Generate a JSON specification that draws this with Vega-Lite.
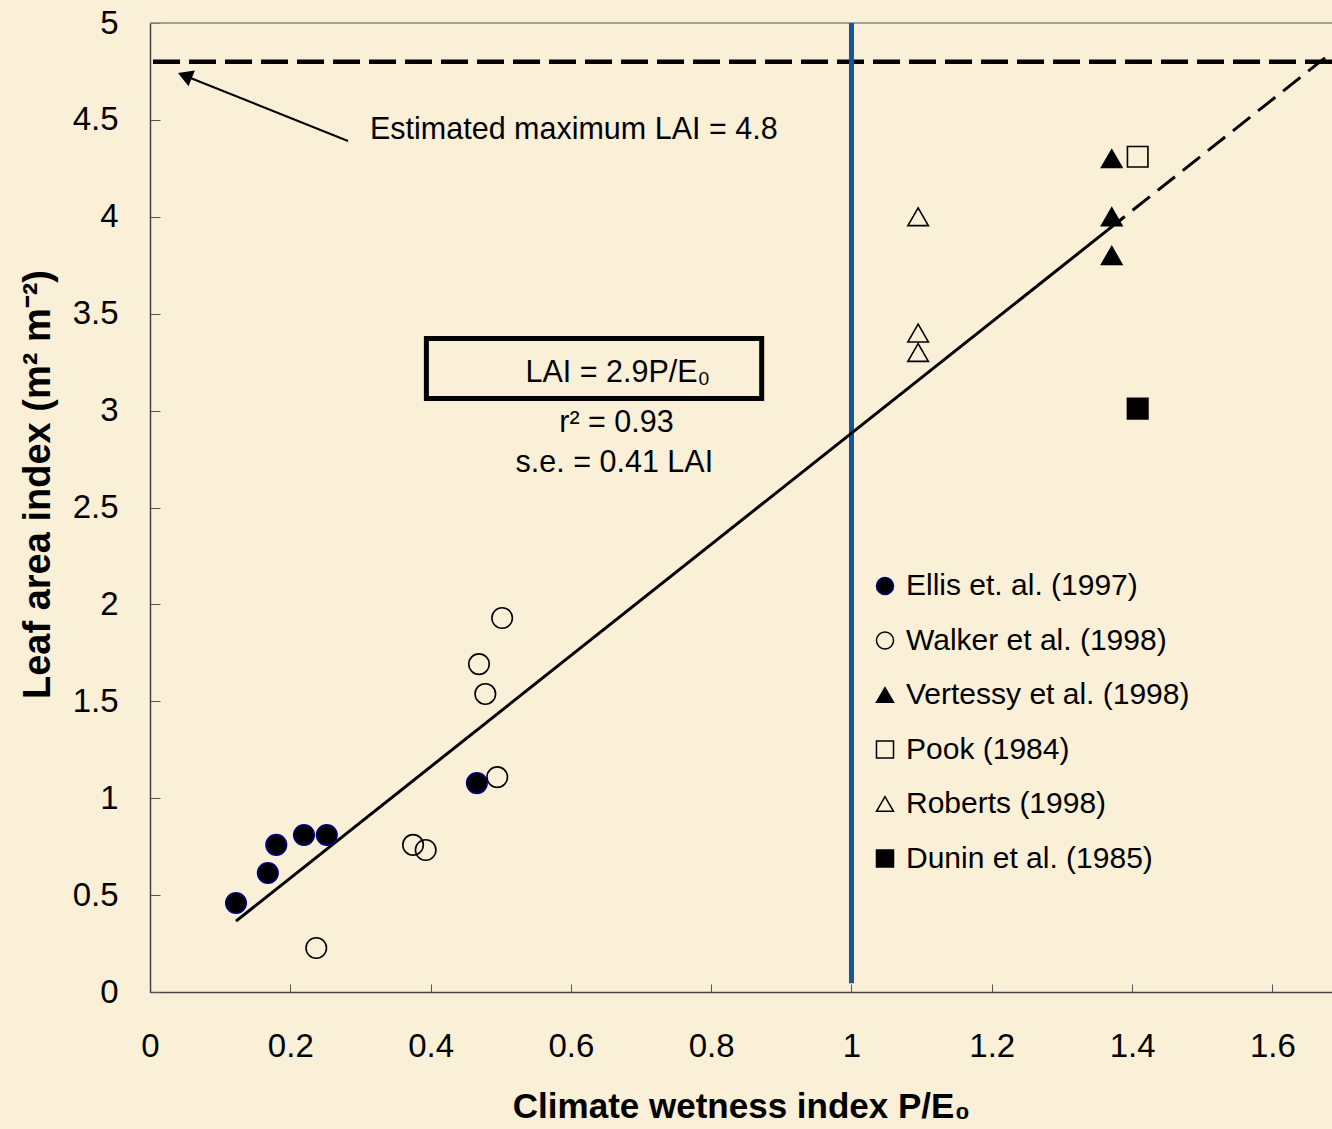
{
  "$schema": "https://vega.github.io/schema/vega-lite/v6.json",
  "width": 1182,
  "height": 969,
  "autosize": {"type": "none"},
  "padding": {"left": 150, "top": 23, "right": 0, "bottom": 137},
  "background": "#FAF0D7",
  "config": {
    "font": "Liberation Sans",
    "view": {"stroke": null},
    "axis": {"grid": false, "labelFlush": false, "domainColor": "#444444", "domainWidth": 1.5, "tickColor": "#555555", "tickWidth": 1, "labelColor": "black", "titleColor": "black", "labelFont": "Liberation Sans", "titleFont": "Liberation Sans"}
  },
  "datasets": {
    "obs": [
      {"study": "Ellis et. al. (1997)", "pe": 0.1226, "lai": 0.459},
      {"study": "Ellis et. al. (1997)", "pe": 0.168, "lai": 0.614},
      {"study": "Ellis et. al. (1997)", "pe": 0.180, "lai": 0.759},
      {"study": "Ellis et. al. (1997)", "pe": 0.2195, "lai": 0.81},
      {"study": "Ellis et. al. (1997)", "pe": 0.252, "lai": 0.81},
      {"study": "Ellis et. al. (1997)", "pe": 0.466, "lai": 1.078},
      {"study": "Walker et al. (1998)", "pe": 0.237, "lai": 0.227},
      {"study": "Walker et al. (1998)", "pe": 0.375, "lai": 0.759},
      {"study": "Walker et al. (1998)", "pe": 0.393, "lai": 0.733},
      {"study": "Walker et al. (1998)", "pe": 0.469, "lai": 1.692},
      {"study": "Walker et al. (1998)", "pe": 0.478, "lai": 1.538},
      {"study": "Walker et al. (1998)", "pe": 0.495, "lai": 1.109},
      {"study": "Walker et al. (1998)", "pe": 0.502, "lai": 1.93},
      {"study": "Vertessy et al. (1998)", "pe": 1.371, "lai": 4.3},
      {"study": "Vertessy et al. (1998)", "pe": 1.371, "lai": 4.0},
      {"study": "Vertessy et al. (1998)", "pe": 1.371, "lai": 3.8},
      {"study": "Pook (1984)", "pe": 1.408, "lai": 4.31},
      {"study": "Roberts (1998)", "pe": 1.095, "lai": 4.0},
      {"study": "Roberts (1998)", "pe": 1.095, "lai": 3.4},
      {"study": "Roberts (1998)", "pe": 1.095, "lai": 3.3},
      {"study": "Dunin et al. (1985)", "pe": 1.408, "lai": 3.01}
    ]
  },
  "layer": [
    {
      "data": {"values": [{"top": 5}]},
      "mark": {"type": "rule", "color": "#888888", "strokeWidth": 1.5},
      "encoding": {"y": {"field": "top", "type": "quantitative"}}
    },
    {
      "data": {"values": [{"max": 4.8}]},
      "mark": {"type": "rule", "color": "black", "strokeWidth": 4.5, "strokeDash": [27, 9]},
      "encoding": {"y": {"field": "max", "type": "quantitative"}}
    },
    {
      "data": {"values": [{"pe": 1, "top": 5, "bottom": 0.045}]},
      "mark": {"type": "rule", "color": "#14559E", "strokeWidth": 5},
      "encoding": {
        "x": {"field": "pe", "type": "quantitative"},
        "y": {"field": "top", "type": "quantitative"},
        "y2": {"field": "bottom"}
      }
    },
    {
      "data": {"values": [{"pe": 0.1226, "lai": 0.366}, {"pe": 1.365, "lai": 3.931}]},
      "mark": {"type": "line", "color": "black", "strokeWidth": 3},
      "encoding": {"x": {"field": "pe", "type": "quantitative"}, "y": {"field": "lai", "type": "quantitative"}}
    },
    {
      "data": {"values": [{"pe": 1.365, "lai": 3.931}, {"pe": 1.675, "lai": 4.82}]},
      "mark": {"type": "line", "color": "black", "strokeWidth": 3, "strokeDash": [22, 10]},
      "encoding": {"x": {"field": "pe", "type": "quantitative"}, "y": {"field": "lai", "type": "quantitative"}}
    },
    {
      "data": {"values": [{"pe": 0.2823, "lai": 4.391, "pe2": 0.0497, "lai2": 4.728}]},
      "mark": {"type": "rule", "color": "black", "strokeWidth": 2},
      "encoding": {
        "x": {"field": "pe", "type": "quantitative"},
        "y": {"field": "lai", "type": "quantitative"},
        "x2": {"field": "pe2"},
        "y2": {"field": "lai2"}
      }
    },
    {
      "data": {"values": [{"pe": 0.0497, "lai": 4.728}]},
      "mark": {"type": "point", "shape": "triangle-up", "filled": true, "color": "black", "size": 290, "angle": 292, "opacity": 1},
      "encoding": {"x": {"field": "pe", "type": "quantitative"}, "y": {"field": "lai", "type": "quantitative"}}
    },
    {
      "data": {"values": [{"x1": 0.394, "x2": 0.872, "y1": 3.372, "y2": 3.062}]},
      "mark": {"type": "rect", "fill": null, "stroke": "black", "strokeWidth": 5},
      "encoding": {
        "x": {"field": "x1", "type": "quantitative"},
        "x2": {"field": "x2"},
        "y": {"field": "y1", "type": "quantitative"},
        "y2": {"field": "y2"}
      }
    },
    {
      "data": {"values": [
        {"pe": 0.3136, "lai": 4.45, "label": "Estimated maximum LAI = 4.8", "al": "left"},
        {"pe": 0.667, "lai": 3.194, "label": "LAI = 2.9P/E₀", "al": "center"},
        {"pe": 0.665, "lai": 2.936, "label": "r² = 0.93", "al": "center"},
        {"pe": 0.662, "lai": 2.73, "label": "s.e. = 0.41 LAI", "al": "center"}
      ]},
      "mark": {"type": "text", "fontSize": 30.5, "color": "black", "baseline": "middle", "align": {"expr": "datum.al"}},
      "encoding": {
        "x": {"field": "pe", "type": "quantitative"},
        "y": {"field": "lai", "type": "quantitative"},
        "text": {"field": "label"}
      }
    },
    {
      "data": {"name": "obs"},
      "mark": {"type": "point", "filled": false, "size": 420, "strokeWidth": 1.6, "opacity": 1},
      "encoding": {
        "x": {
          "field": "pe", "type": "quantitative",
          "scale": {"domain": [0, 1.685], "nice": false, "zero": false},
          "axis": {
            "values": [0, 0.2, 0.4, 0.6, 0.8, 1, 1.2, 1.4, 1.6],
            "format": "~g",
            "tickSize": -8,
            "labelPadding": 46,
            "labelFontSize": 33,
            "title": "Climate wetness index P/E₀",
            "titleFontSize": 35,
            "titleFontWeight": "bold",
            "titleY": 114,
            "titleBaseline": "middle"
          }
        },
        "y": {
          "field": "lai", "type": "quantitative",
          "scale": {"domain": [0, 5], "nice": false, "zero": false},
          "axis": {
            "values": [0, 0.5, 1, 1.5, 2, 2.5, 3, 3.5, 4, 4.5, 5],
            "format": "~g",
            "tickSize": -10,
            "labelPadding": 42,
            "labelFontSize": 33,
            "title": "Leaf area index (m² m⁻²)",
            "titleFontSize": 38,
            "titleFontWeight": "bold",
            "titleX": -112,
            "titleY": 461,
            "titleAngle": 270,
            "titleAlign": "center",
            "titleBaseline": "middle"
          }
        },
        "shape": {
          "field": "study", "type": "nominal",
          "scale": {
            "domain": ["Ellis et. al. (1997)", "Walker et al. (1998)", "Vertessy et al. (1998)", "Pook (1984)", "Roberts (1998)", "Dunin et al. (1985)"],
            "range": ["circle", "circle", "triangle-up", "square", "triangle-up", "square"]
          },
          "legend": {
            "title": null,
            "orient": "none",
            "legendX": 720,
            "legendY": 548,
            "symbolSize": 290,
            "symbolStrokeWidth": 1.5,
            "labelFontSize": 30,
            "labelFont": "Liberation Sans",
            "labelColor": "black",
            "labelOffset": 6,
            "rowPadding": 24.5,
            "labelLimit": 400
          }
        },
        "fill": {
          "field": "study", "type": "nominal",
          "scale": {
            "domain": ["Ellis et. al. (1997)", "Walker et al. (1998)", "Vertessy et al. (1998)", "Pook (1984)", "Roberts (1998)", "Dunin et al. (1985)"],
            "range": ["black", "transparent", "black", "transparent", "transparent", "black"]
          }
        },
        "stroke": {
          "field": "study", "type": "nominal",
          "scale": {
            "domain": ["Ellis et. al. (1997)", "Walker et al. (1998)", "Vertessy et al. (1998)", "Pook (1984)", "Roberts (1998)", "Dunin et al. (1985)"],
            "range": ["#000080", "black", "black", "black", "black", "black"]
          }
        }
      }
    }
  ]
}
